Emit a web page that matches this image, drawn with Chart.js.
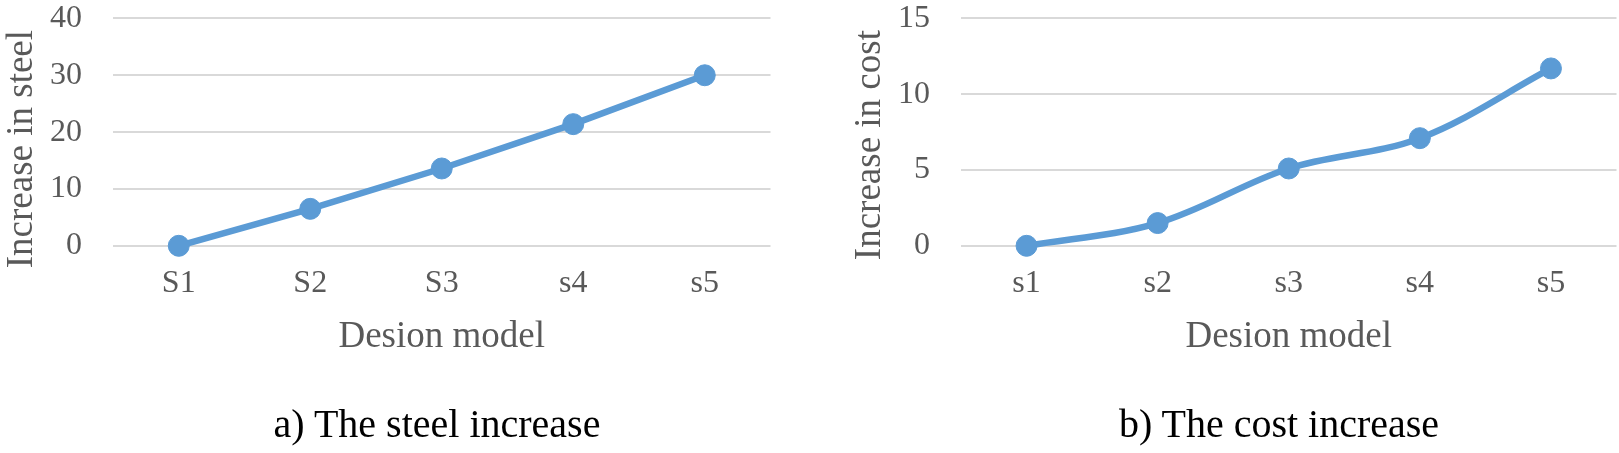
<!DOCTYPE html>
<html>
<head>
<meta charset="utf-8">
<script src="https://cdn.jsdelivr.net/npm/chart.js@4/dist/chart.umd.min.js"></script>
<style>
    html, body { margin: 0; padding: 0; background: #fff; }
    body { width: 1619px; height: 453px; position: relative; overflow: hidden; }
    .panel { position: absolute; top: 0; }
    #steelPanel { left: 0; }
    #costPanel { left: 848px; }
    .caption {
        position: absolute;
        top: 400px;
        width: 500px;
        text-align: center;
        font-family: 'Liberation Serif', 'Times New Roman', serif;
        font-size: 40px;
        line-height: 48px;
        color: #000;
        white-space: nowrap;
    }
    #steelCaption { left: 187px; }
    #costCaption { left: 1029px; }
</style>
</head>
<body>
<div class="panel" id="steelPanel"><canvas id="steelChart" width="782" height="453"></canvas></div>
<div class="panel" id="costPanel"><canvas id="costChart" width="780" height="453"></canvas></div>
<div class="caption" id="steelCaption">a) The steel increase</div>
<div class="caption" id="costCaption">b) The cost increase</div>

<script>
// data
const steelLabels = ['S1', 'S2', 'S3', 's4', 's5'];
const steelValues = [0, 6.5, 13.6, 21.4, 30.0];
const steelTicks = { min: 0, max: 40, step: 10 };

const costLabels = ['s1', 's2', 's3', 's4', 's5'];
const costValues = [0, 1.5, 5.1, 7.1, 11.7];
const costTicks = { min: 0, max: 15, step: 5 };

const FONT = "'Liberation Serif', 'Times New Roman', serif";
const LINE_COLOR = '#5B9BD5';
const TEXT_GREY = '#595959';
const GRID_GREY = '#D9D9D9';

// y title drawn by hand: in the original it sits a bit below the plot centre,
// which the built-in scale title can't do
const yTitlePlugin = {
    id: 'yTitle',
    afterDraw(chart, args, opts) {
        const { ctx, chartArea } = chart;
        ctx.save();
        ctx.translate(opts.baselineX, (chartArea.top + chartArea.bottom) / 2 + opts.shift);
        ctx.rotate(-Math.PI / 2);
        ctx.font = `37px ${FONT}`;
        ctx.fillStyle = TEXT_GREY;
        ctx.textAlign = 'center';
        ctx.textBaseline = 'alphabetic';
        ctx.fillText(opts.text, 0, 0);
        ctx.restore();
    }
};

/**
 * one panel: line chart with axis titles
 * (caption sits under it as plain html)
 */
function renderLineChart(canvasId, labels, values, range, yTitle, shift, tension) {
    const ctx = document.getElementById(canvasId).getContext('2d');

    return new Chart(ctx, {
        type: 'line',
        data: {
            labels: labels,
            datasets: [{
                data: values,
                borderColor: LINE_COLOR,
                backgroundColor: LINE_COLOR,
                borderWidth: 6.5,
                pointRadius: 10.5,
                pointBorderWidth: 1,
                pointBorderColor: LINE_COLOR,
                pointBackgroundColor: LINE_COLOR,
                tension: tension,
                fill: false,
                clip: false
            }]
        },
        plugins: [yTitlePlugin],
        options: {
            responsive: false,
            animation: false,
            layout: { padding: { top: 0, right: 0, bottom: 94, left: 50 } },
            plugins: {
                legend: { display: false },
                tooltip: { enabled: false },
                yTitle: { text: yTitle, baselineX: 32, shift: shift }
            },
            scales: {
                x: {
                    offset: true,
                    grid: { display: false, drawTicks: true, tickLength: 19 },
                    border: { display: false },
                    ticks: {
                        color: TEXT_GREY,
                        font: { family: FONT, size: 32, lineHeight: 1.15 },
                        padding: 0,
                        maxRotation: 0
                    },
                    title: {
                        display: true,
                        text: 'Desion model',
                        color: TEXT_GREY,
                        font: { family: FONT, size: 37 },
                        padding: { top: 13, bottom: 0 }
                    }
                },
                y: {
                    min: range.min,
                    max: range.max,
                    border: { display: false },
                    grid: {
                        color: GRID_GREY,
                        lineWidth: 2,
                        drawTicks: true,
                        tickLength: 31,
                        tickColor: 'rgba(0,0,0,0)'
                    },
                    ticks: {
                        stepSize: range.step,
                        color: TEXT_GREY,
                        font: { family: FONT, size: 32, lineHeight: 1.15 },
                        padding: 0
                    }
                }
            }
        }
    });
}

renderLineChart('steelChart', steelLabels, steelValues, steelTicks, 'Increase in steel', 17, 0);
renderLineChart('costChart', costLabels, costValues, costTicks, 'Increase in cost', 13, 0.35);
</script>
</body>
</html>
